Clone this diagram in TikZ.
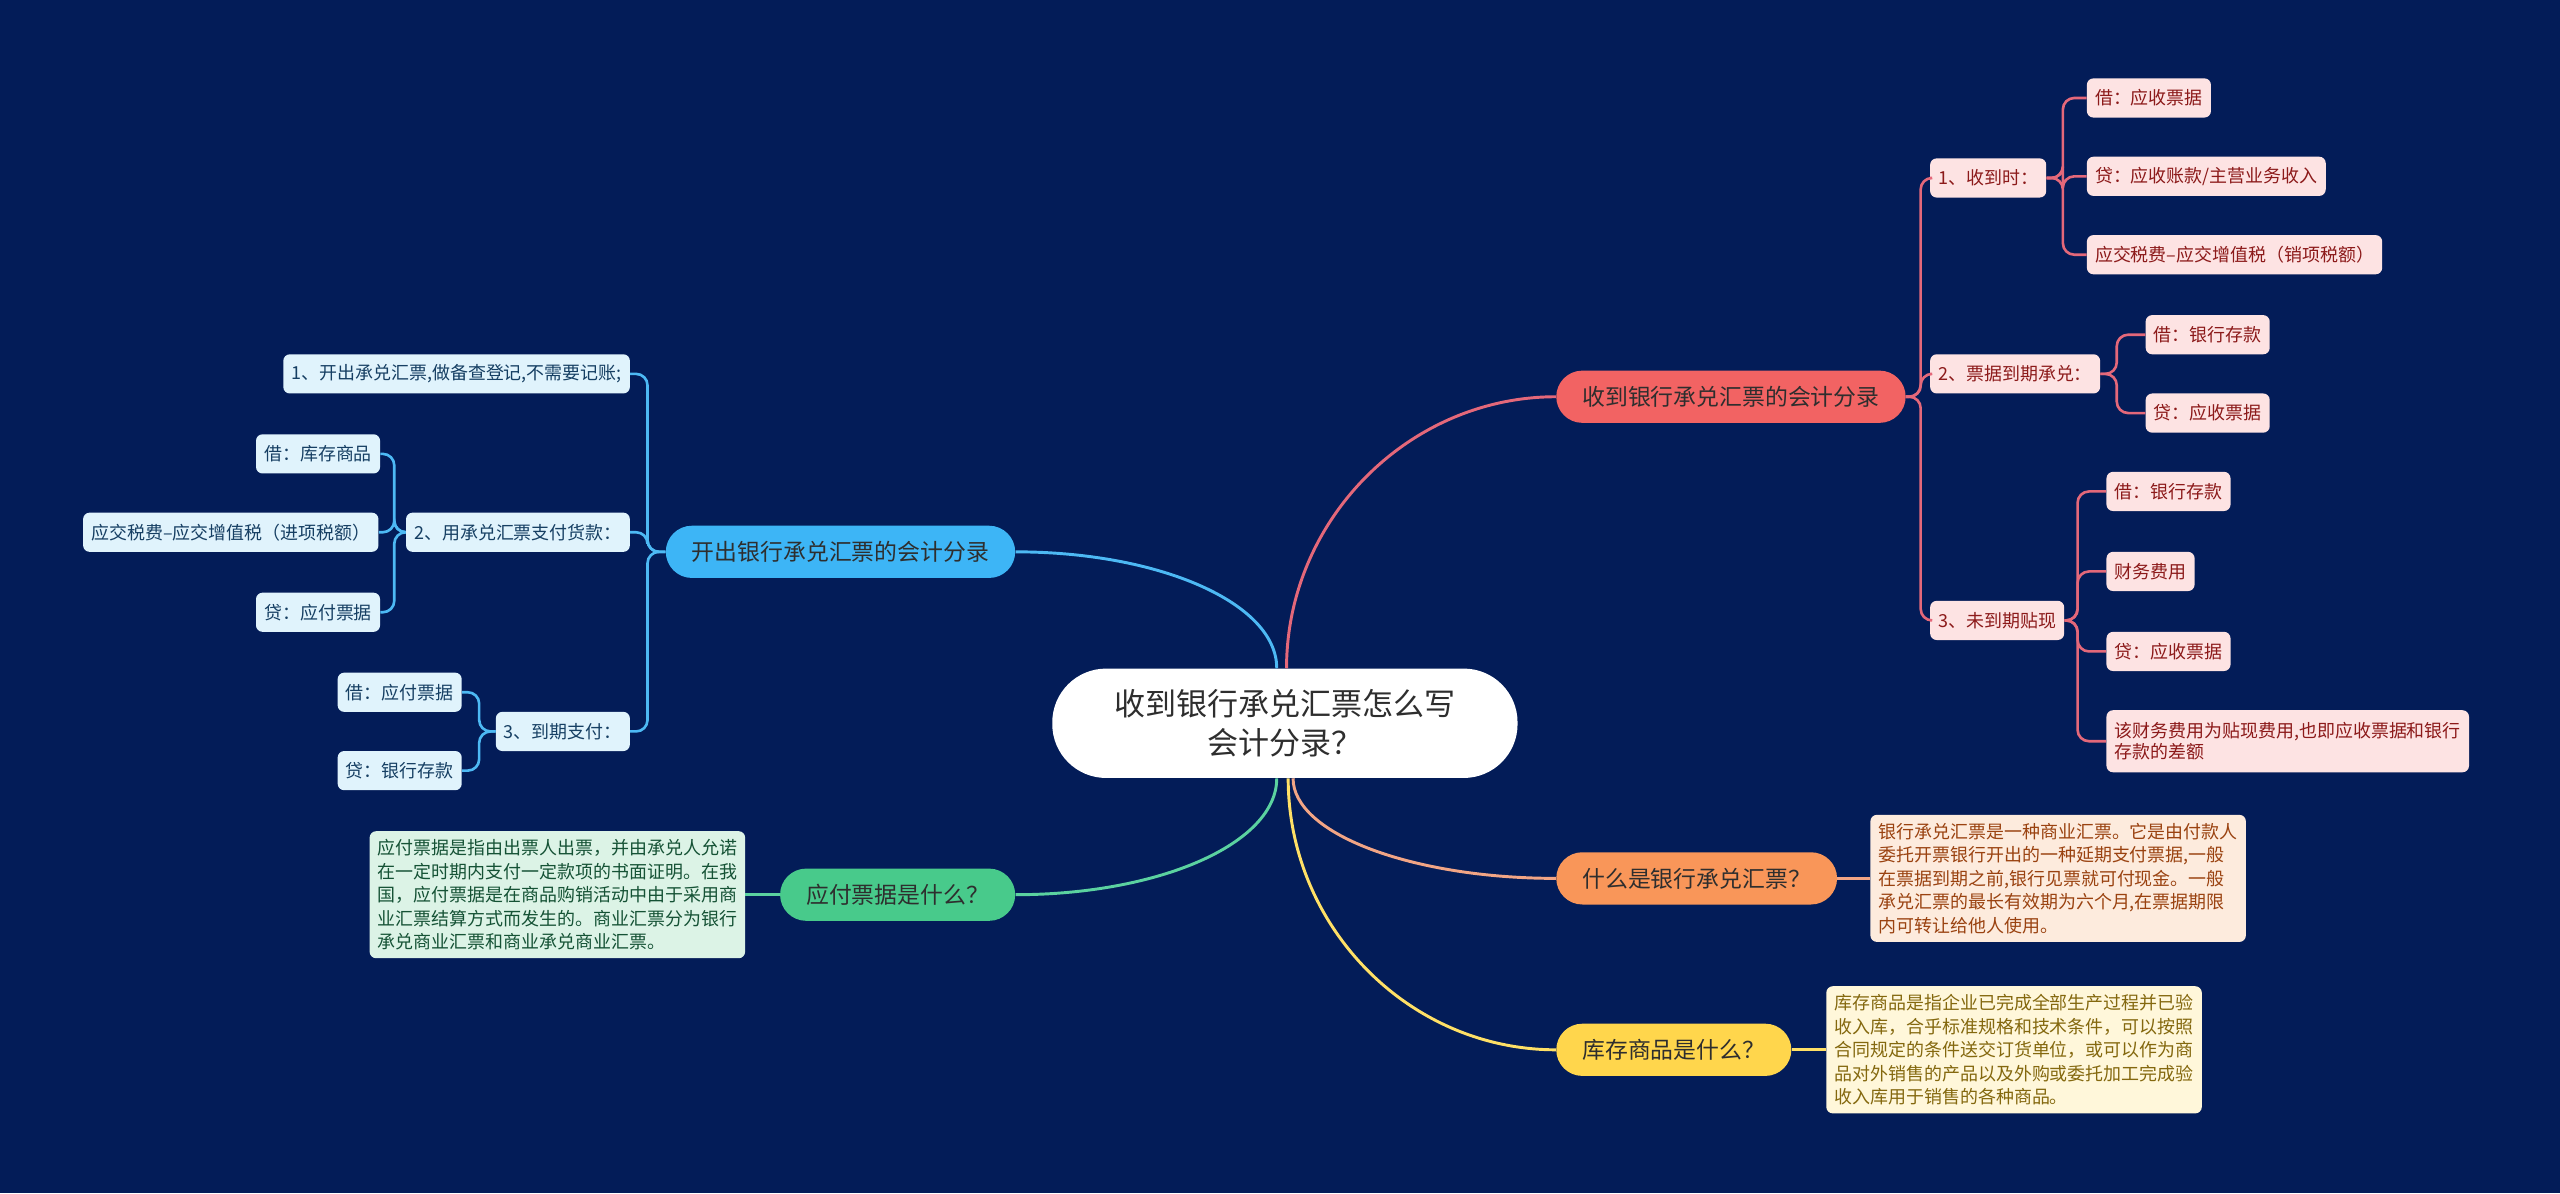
\documentclass[tikz,border=0pt]{standalone}
\usepackage{fontspec}
\setmainfont{Noto Sans CJK SC}
\usepackage{xcolor}
\usepackage{tikz}
\usetikzlibrary{positioning,calc}
\definecolor{navybg}{HTML}{031C58}
\definecolor{rootink}{HTML}{2E2E2E}
\definecolor{coral}{HTML}{F26363}
\definecolor{coralline}{HTML}{E4687A}
\definecolor{lightcoral}{HTML}{FDE3E3}
\definecolor{coralink}{HTML}{8C1A1A}
\definecolor{sky}{HTML}{3DB5F6}
\definecolor{skyline}{HTML}{4DB9F4}
\definecolor{lightsky}{HTML}{E0F3FC}
\definecolor{skyink}{HTML}{163F63}
\definecolor{mint}{HTML}{48CA8B}
\definecolor{mintline}{HTML}{5BD2A0}
\definecolor{lightmint}{HTML}{DCF3E6}
\definecolor{mintink}{HTML}{155235}
\definecolor{tangerine}{HTML}{F99659}
\definecolor{tangerineline}{HTML}{F2A585}
\definecolor{lighttangerine}{HTML}{FDEBDD}
\definecolor{tangerineink}{HTML}{9A4210}
\definecolor{sun}{HTML}{FFD64C}
\definecolor{sunline}{HTML}{FFE066}
\definecolor{lightsun}{HTML}{FFF7DA}
\definecolor{sunink}{HTML}{84680E}

\begin{document}
\begin{tikzpicture}[
  x=1pt,y=-1pt,
  font=\fontsize{11}{13}\selectfont,
  root/.style={fill=white,text=rootink,rounded corners=33pt,minimum width=285pt,minimum height=67pt,align=center,font=\fontsize{19}{24}\selectfont},
  topic/.style={rounded corners=16pt,minimum height=32pt,inner xsep=16pt,text=rootink,font=\fontsize{14}{16}\selectfont},
  leaf/.style={rounded corners=4pt,minimum height=24pt,inner xsep=5pt,inner ysep=3pt,align=left},
  redleaf/.style={leaf,fill=lightcoral,text=coralink},
  blueleaf/.style={leaf,fill=lightsky,text=skyink},
  para/.style={rounded corners=4pt,inner xsep=5pt,inner ysep=5pt,align=left,font=\fontsize{11}{14.4}\selectfont},
  link/.style={line width=1.6pt,rounded corners=7pt},
  curve/.style={line width=1.8pt}
]
\useasboundingbox[fill=navybg] (0,0) rectangle (1568,731);

\node[root] (root) at (787,443) {收到银行承兑汇票怎么写\\会计分录？};

% right branches
\node[topic,fill=coral,anchor=west] (recv) at (953,243) {收到银行承兑汇票的会计分录};
\node[topic,fill=tangerine,anchor=west] (what) at (953,538) {什么是银行承兑汇票？};
\node[topic,fill=sun,anchor=west] (stock) at (953,643) {库存商品是什么？};
\node[para,fill=lighttangerine,text=tangerineink,right=20pt of what] (whatp) {银行承兑汇票是一种商业汇票。它是由付款人\\委托开票银行开出的一种延期支付票据,一般\\在票据到期之前,银行见票就可付现金。一般\\承兑汇票的最长有效期为六个月,在票据期限\\内可转让给他人使用。};
\node[para,fill=lightsun,text=sunink,right=21pt of stock] (stockp) {库存商品是指企业已完成全部生产过程并已验\\收入库，合乎标准规格和技术条件，可以按照\\合同规定的条件送交订货单位，或可以作为商\\品对外销售的产品以及外购或委托加工完成验\\收入库用于销售的各种商品。};

\node[redleaf,anchor=west] (recv1) at (1182,109) {1、收到时：};
\node[redleaf,anchor=west] (recv2) at (1182,229) {2、票据到期承兑：};
\node[redleaf,anchor=west] (recv3) at (1182,380) {3、未到期贴现};
\node[redleaf,anchor=west] (recv1a) at (1278,60) {借：应收票据};
\node[redleaf,anchor=west] (recv1b) at (1278,108) {贷：应收账款/主营业务收入};
\node[redleaf,anchor=west] (recv1c) at (1278,156) {应交税费–应交增值税（销项税额）};
\node[redleaf,anchor=west] (recv2a) at (1314,205) {借：银行存款};
\node[redleaf,anchor=west] (recv2b) at (1314,253) {贷：应收票据};
\node[redleaf,anchor=west] (recv3a) at (1290,301) {借：银行存款};
\node[redleaf,anchor=west] (recv3b) at (1290,350) {财务费用};
\node[redleaf,anchor=west] (recv3c) at (1290,399) {贷：应收票据};
\node[redleaf,anchor=west,minimum height=38pt] (recv3d) at (1290,454) {该财务费用为贴现费用,也即应收票据和银行\\存款的差额};

% left branches
\node[topic,fill=sky,anchor=east] (issue) at (622,338) {开出银行承兑汇票的会计分录};
\node[topic,fill=mint,anchor=east] (bill) at (622,548) {应付票据是什么？};
\node[para,fill=lightmint,text=mintink,left=21pt of bill] (billp) {应付票据是指由出票人出票，并由承兑人允诺\\在一定时期内支付一定款项的书面证明。在我\\国，应付票据是在商品购销活动中由于采用商\\业汇票结算方式而发生的。商业汇票分为银行\\承兑商业汇票和商业承兑商业汇票。};

\node[blueleaf,anchor=east] (issue1) at (386,229) {1、开出承兑汇票,做备查登记,不需要记账;};
\node[blueleaf,anchor=east] (issue2) at (386,326) {2、用承兑汇票支付货款：};
\node[blueleaf,anchor=east] (issue3) at (386,448) {3、到期支付：};
\node[blueleaf,anchor=east] (issue2a) at (233,278) {借：库存商品};
\node[blueleaf,anchor=east] (issue2b) at (232,326) {应交税费–应交增值税（进项税额）};
\node[blueleaf,anchor=east] (issue2c) at (233,375) {贷：应付票据};
\node[blueleaf,anchor=east] (issue3a) at (283,424) {借：应付票据};
\node[blueleaf,anchor=east] (issue3b) at (283,472) {贷：银行存款};

% root curves
\draw[curve,coralline] ($(root.north)+(1,0)$) .. controls +(0,-91) and +(-90,0) .. (recv.west);
\draw[curve,skyline] ($(root.north)+(-5,0)$) .. controls +(0,-40) and +(88,0) .. (issue.east);
\draw[curve,mintline] ($(root.south)+(-5,0)$) .. controls +(0,40) and +(88,0) .. (bill.east);
\draw[curve,tangerineline] ($(root.south)+(5,0)$) .. controls +(0,34) and +(-88,0) .. (what.west);
\draw[curve,sunline] ($(root.south)+(2,0)$) .. controls +(0,91) and +(-90,0) .. (stock.west);
\draw[curve,tangerineline] (what) -- (whatp);
\draw[curve,sunline] (stock) -- (stockp);
\draw[curve,mintline] (bill) -- (billp);

% bracket links
\coordinate (recvj) at ($(recv.east)+(9,0)$);
\coordinate (recv1j) at ($(recv1.east)+(10,0)$);
\coordinate (recv2j) at ($(recv2.east)+(10,0)$);
\coordinate (recv3j) at ($(recv3.east)+(8,0)$);
\foreach \c in {recv1,recv2,recv3}
  \draw[link,coralline] (recv.east) -- (recvj) |- (\c.west);
\foreach \c in {recv1a,recv1b,recv1c}
  \draw[link,coralline] (recv1.east) -- (recv1j) |- (\c.west);
\foreach \c in {recv2a,recv2b}
  \draw[link,coralline] (recv2.east) -- (recv2j) |- (\c.west);
\foreach \c in {recv3a,recv3b,recv3c,recv3d}
  \draw[link,coralline] (recv3.east) -- (recv3j) |- (\c.west);

\coordinate (issuej) at ($(issue.west)+(-11,0)$);
\coordinate (issue2j) at ($(issue2.west)+(-7,0)$);
\coordinate (issue3j) at ($(issue3.west)+(-10,0)$);
\foreach \c in {issue1,issue2,issue3}
  \draw[link,skyline] (issue.west) -- (issuej) |- (\c.east);
\foreach \c in {issue2a,issue2b,issue2c}
  \draw[link,skyline] (issue2.west) -- (issue2j) |- (\c.east);
\foreach \c in {issue3a,issue3b}
  \draw[link,skyline] (issue3.west) -- (issue3j) |- (\c.east);
\end{tikzpicture}
\end{document}
